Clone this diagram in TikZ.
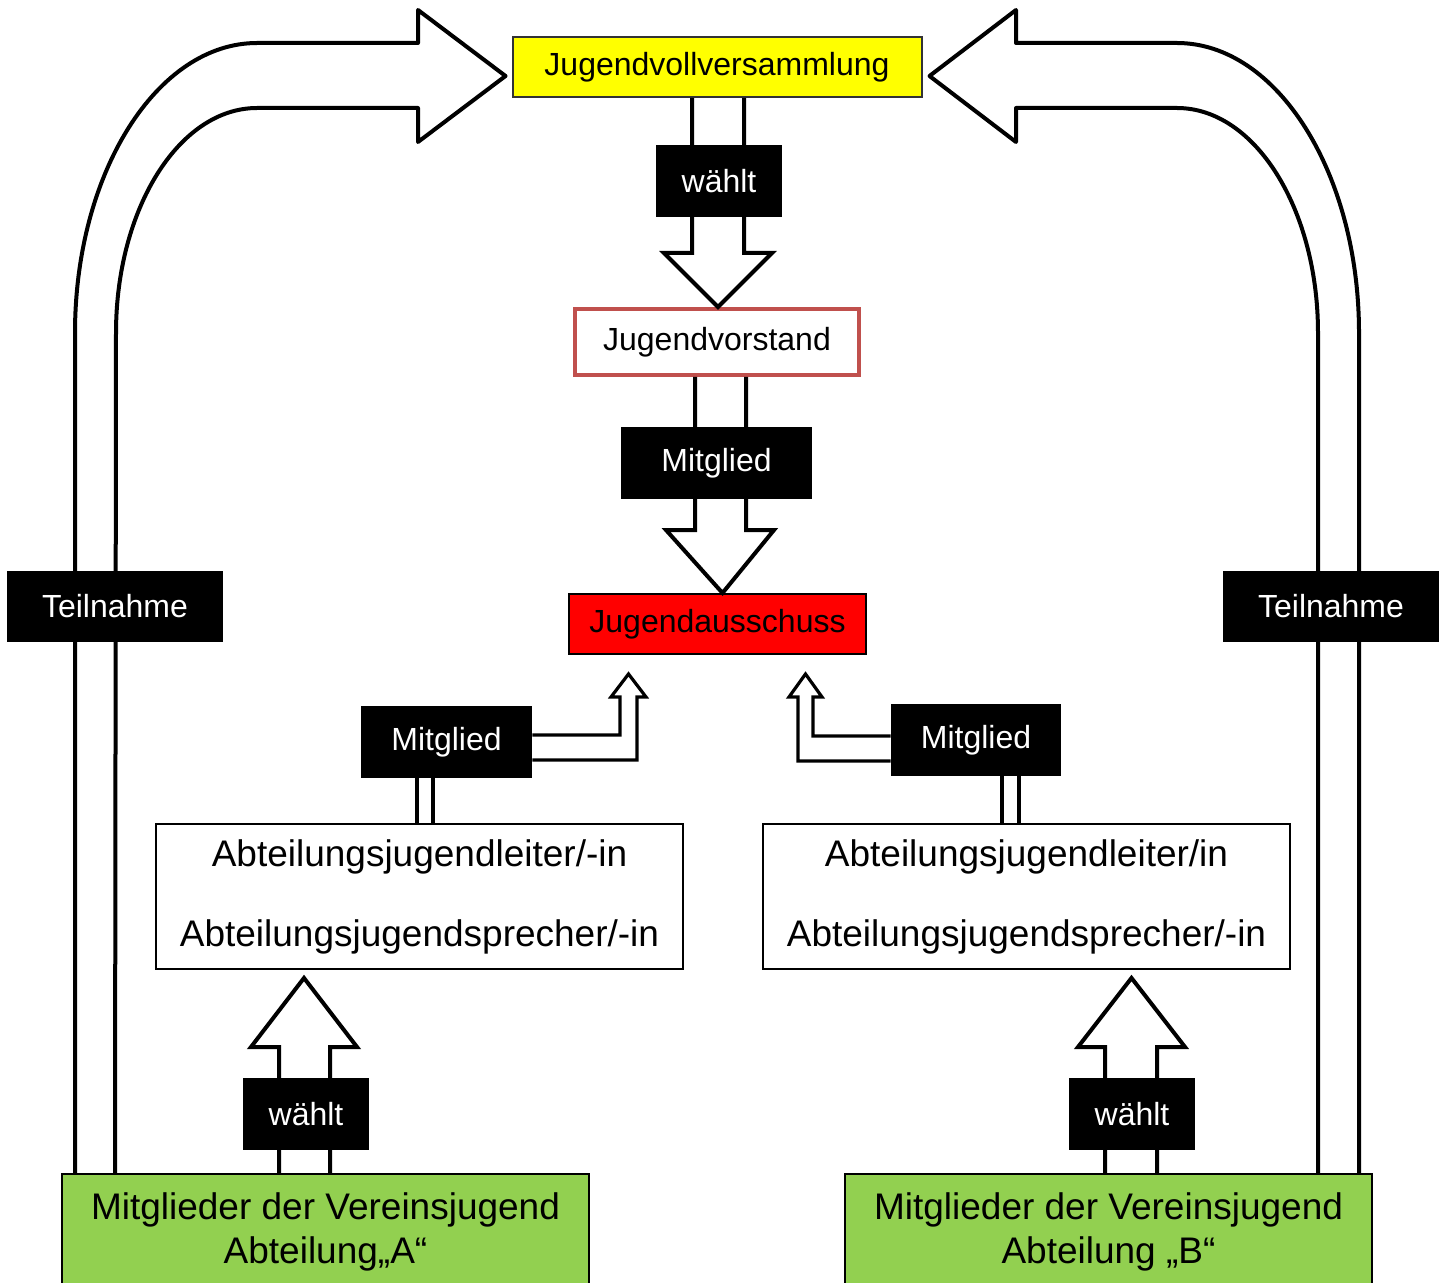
\documentclass[tikz,border=0pt]{standalone}
\usepackage{fontspec}
\setmainfont{Liberation Sans}
\usetikzlibrary{calc}

\definecolor{jyellow}{HTML}{FFFF00}
\definecolor{jred}{HTML}{FF0000}
\definecolor{jgreen}{HTML}{92D050}
\definecolor{jrose}{HTML}{C0504D}

\begin{document}
\begin{tikzpicture}[x=0.5pt,y=-0.5pt,
    every node/.style={font=\fontsize{16}{19}\selectfont,inner sep=0pt},
    org/.style={draw,line width=1pt,minimum width=#1,align=center},
    big/.style={font=\fontsize{18.5}{22}\selectfont},
    lbl/.style={fill=black,text=white,minimum width=#1,minimum height=36pt},
    arr/.style={draw,line width=2pt},
    curvearr/.style={arr,line width=2pt,line join=round}]
  \path[use as bounding box] (0,0) rectangle (1440,1283);
  \clip (0,0) rectangle (1440,1283);

  % main boxes
  \node[org=204.5pt,minimum height=30pt,fill=jyellow,draw=black!80] (jvv) at (717,67) {Jugendvollversammlung};
  \node[org=142pt,minimum height=33pt,draw=jrose,line width=2pt] (jvs) at (717,342) {Jugendvorstand};
  \node[org=148.5pt,minimum height=30pt,fill=jred] (jas) at (717.5,624) {Jugendausschuss};
  \node[org=263.5pt,minimum height=72.5pt,big,font=\fontsize{18.5}{40}\selectfont] (abtA) at (419.5,896.5)
    {Abteilungsjugendleiter/-in\\Abteilungsjugendsprecher/-in};
  \node[org=263.5pt,minimum height=72.5pt,big,font=\fontsize{18.5}{40}\selectfont] (abtB) at (1026.5,896.5)
    {Abteilungsjugendleiter/in\\Abteilungsjugendsprecher/-in};
  \node[org=263.5pt,minimum height=58pt,fill=jgreen,big,anchor=north] (grA) at (325.5,1173)
    {Mitglieder der Vereinsjugend\\Abteilung„A“};
  \node[org=263.5pt,minimum height=58pt,fill=jgreen,big,anchor=north] (grB) at (1108.5,1173)
    {Mitglieder der Vereinsjugend\\Abteilung „B“};

  \coordinate (tipC) at (304,978);
  \coordinate (tipD) at (1131.5,978);

  % block arrows
  \draw[arr] ([xshift=-12.5pt]jvv.south) |- (664,253) -- ([xshift=0.5pt]jvs.north) -- (772,253) -| ([xshift=13.5pt]jvv.south);
  \draw[arr] ([xshift=-11pt]jvs.south) |- (666,530) -- ([xshift=2.5pt]jas.north) -- (774,530) -| ([xshift=14.5pt]jvs.south);
  \draw[arr] ([xshift=-23.25pt]grA.north) |- (251,1047) -- (tipC) -- (357,1047) -| ([xshift=2.25pt]grA.north);
  \draw[arr] ([xshift=-1.75pt]grB.north) |- (1078,1047) -- (tipD) -- (1185,1047) -| ([xshift=24.25pt]grB.north);

  % Teilnahme
  \draw[curvearr] ([xshift=7pt]grA.north west) -- (75,333) .. controls (75,173) and (157,43) .. (257,43)
    -- (418,43) -- (418,10) -- ([xshift=-3pt,yshift=-4.5pt]jvv.west) -- (418,142) -- (418,108) -- (257,108)
    .. controls (179,108) and (116,209) .. (116,333) -- ([xshift=27pt]grA.north west);
  \draw[curvearr] ([xshift=-7pt]grB.north east) -- (1359,333) .. controls (1359,173) and (1277,43) .. (1177,43)
    -- (1016,43) -- (1016,10) -- ([xshift=3.5pt,yshift=-4.5pt]jvv.east) -- (1016,142) -- (1016,108) -- (1177,108)
    .. controls (1255,108) and (1318,209) .. (1318,333) -- ([xshift=-27.5pt]grB.north east);

  % labels
  \node[lbl=63pt] (w1) at (719,181) {wählt};
  \node[lbl=95.5pt] (m1) at (716.5,463) {Mitglied};
  \node[lbl=108pt,minimum height=35.5pt] (tA) at (115,606.5) {Teilnahme};
  \node[lbl=108pt,minimum height=35.5pt] (tB) at (1331,606.5) {Teilnahme};
  \node[lbl=85.5pt] (mA) at (446.5,742) {Mitglied};
  \node[lbl=85pt] (mB) at (976,740) {Mitglied};
  \node[lbl=63pt] (wA) at (306,1114) {wählt};
  \node[lbl=63pt] (wB) at (1132,1114) {wählt};

  \coordinate (tipA) at (628.5,674);
  \coordinate (tipB) at (805.5,674);

  % small arrows to Jugendausschuss
  \draw[arr,line width=1.6pt] ([yshift=3.5pt]mA.east) -| (620,697) -- (611,697) -- (tipA) -- (646,697) -- (637,697) |- ([yshift=-9pt]mA.east);
  \draw[arr,line width=1.6pt] ([yshift=2pt]mB.west) -| (813,697) -- (822,697) -- (tipB) -- (789,697) -- (798,697) |- ([yshift=-10.5pt]mB.west);
  \draw[arr,line width=1.6pt] ([xshift=-14.75pt]mA.south) -- ([xshift=-14.75pt]mA.south |- abtA.north)
    ([xshift=-6.75pt]mA.south) -- ([xshift=-6.75pt]mA.south |- abtA.north);
  \draw[arr,line width=1.6pt] ([xshift=13pt]mB.south) -- ([xshift=13pt]mB.south |- abtB.north)
    ([xshift=21.5pt]mB.south) -- ([xshift=21.5pt]mB.south |- abtB.north);
\end{tikzpicture}
\end{document}
